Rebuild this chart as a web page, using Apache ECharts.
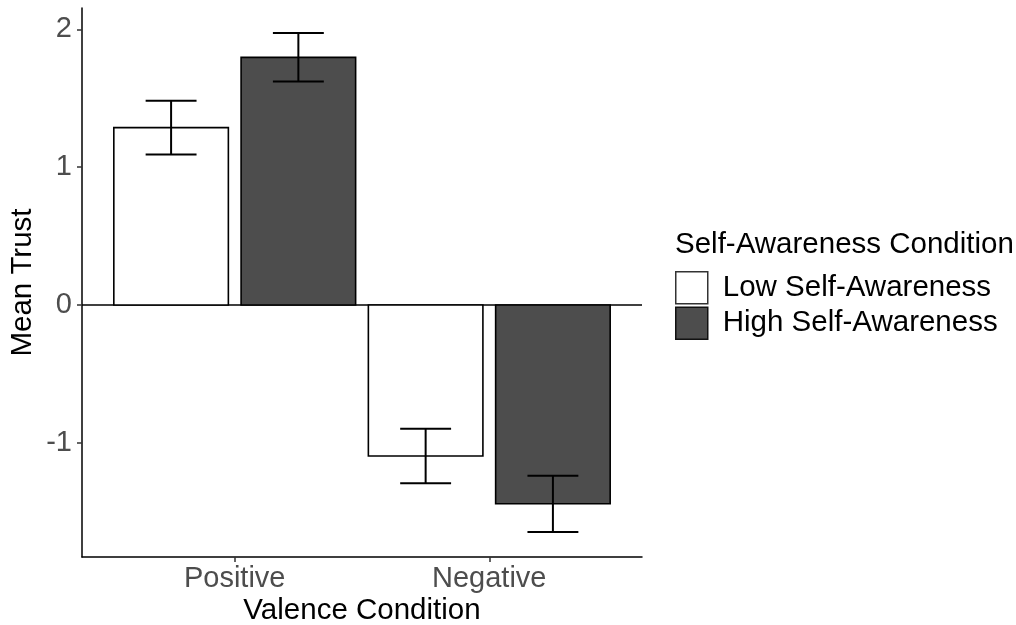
<!DOCTYPE html>
<html>
<head>
<meta charset="utf-8">
<script src="https://cdn.jsdelivr.net/npm/echarts@6/dist/echarts.min.js"></script>
<style>html,body{margin:0;padding:0;background:#fff}#c{width:1016px;height:625px}</style>
</head>
<body>
<div id="c"></div>
<script>
const categories = ['Positive', 'Negative'];
const groups = ['Low Self-Awareness', 'High Self-Awareness'];
const lowMean = [1.287, -1.096];
const lowSE = [0.195, 0.197];
const highMean = [1.797, -1.443];
const highSE = [0.176, 0.204];
const yTicks = [-1, 0, 1, 2];

const FONT = '"Liberation Sans", Arial, sans-serif';
const dodge = 0.25, halfBar = 0.225, halfWhisker = 0.1;

function mk(means, ses, offset) {
  return means.map((m, i) => [i + 1 + offset, m, ses[i]]);
}

function renderBar(fill, stroke) {
  return function (params, api) {
    const x = api.value(0), y = api.value(1), se = api.value(2);
    const a = api.coord([x - halfBar, y]);
    const b = api.coord([x + halfBar, 0]);
    const top = api.coord([x, y + se]);
    const bot = api.coord([x, y - se]);
    const wl = api.coord([x - halfWhisker, y])[0];
    const wr = api.coord([x + halfWhisker, y])[0];
    const ls = { stroke: '#000', lineWidth: 2 };
    return {
      type: 'group',
      children: [
        { type: 'rect', shape: { x: Math.min(a[0], b[0]), y: Math.min(a[1], b[1]), width: Math.abs(b[0] - a[0]), height: Math.abs(b[1] - a[1]) },
          style: { fill: fill, stroke: stroke, lineWidth: 1.6 } },
        { type: 'line', shape: { x1: top[0], y1: top[1], x2: bot[0], y2: bot[1] }, style: ls },
        { type: 'line', shape: { x1: wl, y1: top[1], x2: wr, y2: top[1] }, style: ls },
        { type: 'line', shape: { x1: wl, y1: bot[1], x2: wr, y2: bot[1] }, style: ls }
      ]
    };
  };
}

const chart = echarts.init(document.getElementById('c'), null, { renderer: 'canvas' });
chart.setOption({
  animation: false,
  backgroundColor: '#fff',
  textStyle: { fontFamily: FONT },
  title: {
    text: 'Self-Awareness Condition', left: 675, top: 230,
    padding: 0,
    textStyle: { fontFamily: FONT, fontSize: 29.5, fontWeight: 'normal', color: '#000' }
  },
  legend: {
    orient: 'vertical', left: 675, top: 271, padding: 0,
    itemWidth: 32, itemHeight: 32, itemGap: 2, icon: 'rect',
    textStyle: { fontFamily: FONT, fontSize: 29.5, lineHeight: 32, color: '#000', padding: [0, 0, 0, 10] },
    data: [
      { name: groups[0], itemStyle: { color: '#fff', borderColor: '#333', borderWidth: 1.5 } },
      { name: groups[1], itemStyle: { color: '#4d4d4d', borderColor: '#111', borderWidth: 1.5 } }
    ]
  },
  grid: { left: 82, right: 374, top: 8, bottom: 68, containLabel: false, outerBoundsMode: 'none' },
  xAxis: {
    type: 'value', min: 0.4, max: 2.6,
    name: 'Valence Condition', nameLocation: 'middle', nameGap: 39, nameMoveOverlap: false,
    nameTextStyle: { fontFamily: FONT, fontSize: 29.5, color: '#000' },
    axisLine: { show: true, onZero: false, lineStyle: { color: '#000', width: 1.5 } },
    axisTick: { show: true, length: 5, lineStyle: { color: '#333', width: 1.5 }, customValues: [1, 2] },
    axisLabel: { fontFamily: FONT, fontSize: 29, color: '#4d4d4d', margin: 7, customValues: [1, 2],
      formatter: v => categories[Math.round(v) - 1] || '' },
    splitLine: { show: false }
  },
  yAxis: {
    type: 'value', min: -1.829, max: 2.155,
    name: 'Mean Trust', nameLocation: 'middle', nameGap: 44, nameMoveOverlap: false,
    nameTextStyle: { fontFamily: FONT, fontSize: 29.5, color: '#000' },
    axisLine: { show: true, onZero: false, lineStyle: { color: '#000', width: 1.5 } },
    axisTick: { show: true, length: 5, lineStyle: { color: '#333', width: 1.5 }, customValues: yTicks },
    axisLabel: { fontFamily: FONT, fontSize: 29, color: '#4d4d4d', margin: 10, customValues: yTicks },
    splitLine: { show: false }
  },
  series: [
    {
      name: 'zero', type: 'line', data: [[0.4, 0], [2.6, 0]], symbol: 'none', silent: true,
      lineStyle: { color: '#000', width: 1.5 }, z: 1
    },
    {
      name: groups[0], type: 'custom', renderItem: renderBar('#fff', '#000'),
      itemStyle: { color: '#fff' }, data: mk(lowMean, lowSE, -dodge), z: 2,
      encode: { x: 0, y: 1 }
    },
    {
      name: groups[1], type: 'custom', renderItem: renderBar('#4d4d4d', '#000'),
      itemStyle: { color: '#4d4d4d' }, data: mk(highMean, highSE, dodge), z: 2,
      encode: { x: 0, y: 1 }
    }
  ]
});
</script>
</body>
</html>
